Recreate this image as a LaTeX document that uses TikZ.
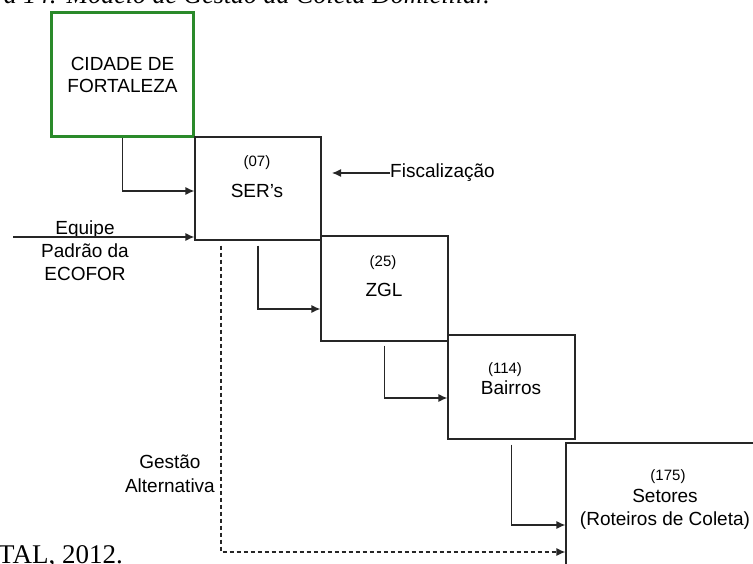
\documentclass[tikz,border=0pt]{standalone}
\usepackage{fontspec}
\setmainfont{Liberation Serif}
\setsansfont{Liberation Sans}
\usetikzlibrary{
  arrows.meta,
  positioning,
  calc
}
\definecolor{cfGreen}{HTML}{2A8A2A}
\definecolor{cfLine}{HTML}{262626}
\tikzset{
  cfbox/.style={
    draw=cfLine, line width=1.2pt, inner sep=0pt,
    minimum width=126pt, minimum height=103pt
  },
  citybox/.style={
    draw=cfGreen, line width=3pt, minimum width=142pt, minimum height=124pt,
    font=\sffamily\fontsize{19}{22}\selectfont, align=center
  },
  numtxt/.style={font=\sffamily\fontsize{15}{17}\selectfont, inner sep=0pt},
  lbltxt/.style={font=\sffamily\fontsize{19}{23}\selectfont, inner sep=0pt, align=center},
  feed/.style={-{Latex[length=9pt,width=8pt]}, line width=1.2pt, cfLine},
  altflow/.style={feed, dash pattern=on 4pt off 3pt},
  captxt/.style={font=\fontsize{27}{30}\selectfont, inner sep=0pt}
}

\begin{document}
\begin{tikzpicture}[x=1pt, y=-1pt]
  \useasboundingbox (0,0) rectangle (753,564);
  \clip (0,0) rectangle (753,564);
  % caption lines, cut by the page edge
  \node[captxt, anchor=base east, font=\itshape\fontsize{26}{30}\selectfont] (figcap) at (490,3.5) {a 14: Modelo de Gestão da Coleta Domiciliar.};
  \node[captxt, anchor=base west] (fonte) at (-2,563) {TAL, 2012.};
  % boxes
  \node[citybox] (cidade) at (122.5,74.5) {CIDADE DE\\FORTALEZA};
  \node[cfbox] (ser) at (258,188.5) {};
  \node[cfbox, minimum width=127pt, minimum height=105pt] (zgl) at (384.5,288.5) {};
  \node[cfbox, minimum width=127pt, minimum height=104pt] (bairros) at (511.5,387) {};
  \node[cfbox, minimum width=200pt, minimum height=140pt] (setores) at (666,513) {};
  \node[numtxt] (serN) at (257,163) {(07)};
  \node[lbltxt] (serT) at (257,191) {SER's};
  \node[numtxt] (zglN) at (383,263) {(25)};
  \node[lbltxt] (zglT) at (384,290) {ZGL};
  \node[numtxt] (bairN) at (505,370) {(114)};
  \node[lbltxt] (bairT) at (511,388) {Bairros};
  \node[numtxt] (setN) at (668,477) {(175)};
  \node[lbltxt] (setT) at (665,509) {Setores\\(Roteiros de Coleta)};
  % side inputs
  \node[lbltxt] (equipe) at (85,251) {Equipe\\Padrão da\\ECOFOR};
  \coordinate (eqIn) at (13,237);
  \draw[feed] (eqIn) -- (eqIn -| ser.west);
  \node[lbltxt, anchor=west] (fisc) at (390,173) {Fiscalização};
  \coordinate (fiscEnd) at (332,173);
  \draw[feed] (fisc.west) -- (fiscEnd);
  \node[lbltxt, anchor=east, font=\sffamily\fontsize{19}{24}\selectfont] (gestao) at (215,474) {Gestão\\Alternativa};
  % cascade
  \draw[feed] (cidade.south) |- ([yshift=-2.5pt]ser.west);
  \draw[feed] ([yshift=-5pt]ser.south) |- ([yshift=-20.5pt]zgl.west);
  \draw[feed] ([yshift=-4pt]zgl.south) |- ([yshift=-11pt]bairros.west);
  \draw[feed] ([yshift=-5pt]bairros.south) |- ([yshift=-12pt]setores.west);
  \draw[altflow] ([xshift=-37pt, yshift=-5pt]ser.south) |- ([yshift=-39pt]setores.west);
\end{tikzpicture}
\end{document}
